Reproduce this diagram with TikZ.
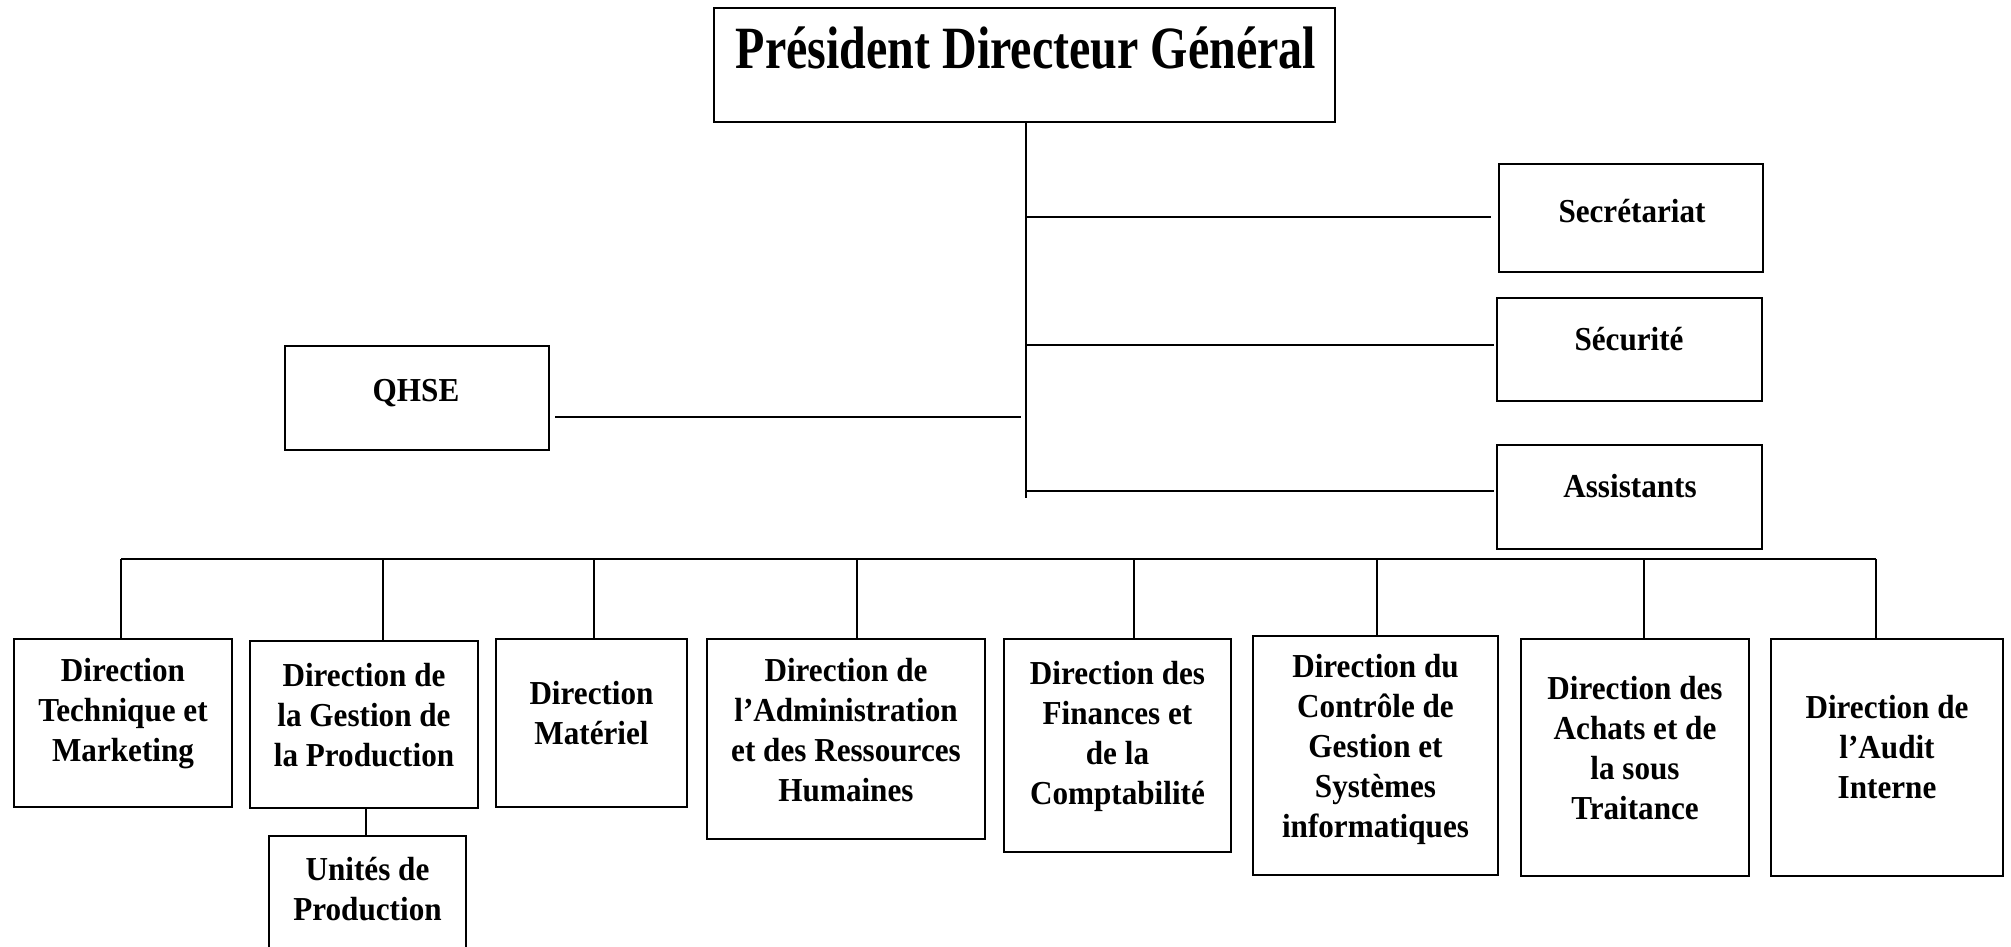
\documentclass[tikz,border=0pt]{standalone}
\usepackage{fontspec}
\setmainfont{Liberation Serif}[FakeStretch=0.93]
\newfontfamily\pdgfont{Liberation Serif}[FakeStretch=0.8]
\begin{document}
\begin{tikzpicture}[x=1pt,y=-1pt,
  box/.style={draw, line width=2.5pt, inner sep=0pt},
  lbl/.style={font=\bfseries\fontsize{33.5}{40}\selectfont, align=center, inner sep=0pt},
  big/.style={font=\pdgfont\bfseries\fontsize{60}{66}\selectfont, inner sep=0pt},
  ln/.style={line width=2pt}]
\useasboundingbox (0,0) rectangle (2011,946);
% boxes
\node[box, minimum width=621pt, minimum height=114pt] (pdg) at (1024.5,65) {};
\node[box, minimum width=264pt, minimum height=108pt] (sec) at (1631,218) {};
\node[box, minimum width=265pt, minimum height=103pt] (secu) at (1629.5,349.5) {};
\node[box, minimum width=265pt, minimum height=104pt] (asst) at (1629.5,497) {};
\node[box, minimum width=264pt, minimum height=104pt] (qhse) at (417,398) {};
\node[box, minimum width=218pt, minimum height=168pt] (d1) at (123,723) {};
\node[box, minimum width=228pt, minimum height=167pt] (d2) at (364,724.5) {};
\node[box, minimum width=191pt, minimum height=168pt] (d3) at (591.5,723) {};
\node[box, minimum width=278pt, minimum height=200pt] (d4) at (846,739) {};
\node[box, minimum width=227pt, minimum height=213pt] (d5) at (1117.5,745.5) {};
\node[box, minimum width=245pt, minimum height=239pt] (d6) at (1375.5,755.5) {};
\node[box, minimum width=228pt, minimum height=237pt] (d7) at (1635,757.5) {};
\node[box, minimum width=232pt, minimum height=237pt] (d8) at (1887,757.5) {};
\node[box, minimum width=197pt, minimum height=134pt] (up) at (367.5,903) {};
% texts
\node[big] (tpdg) at (1026,48) {Président Directeur Général};
\node[lbl] (tsec) at (1632,211) {Secrétariat};
\node[lbl] (tsecu) at (1629,339) {Sécurité};
\node[lbl] (tasst) at (1630,486) {Assistants};
\node[lbl] (tqhse) at (416,393) {QHSE};
\node[lbl] (t1) at (123,714) {Direction\\Technique et\\Marketing};
\node[lbl] (t2) at (364,715) {Direction de\\la Gestion de\\la Production};
\node[lbl] (t3) at (591.5,713) {Direction\\Matériel};
\node[lbl] (t4) at (846,730) {Direction de\\l’Administration\\et des Ressources\\Humaines};
\node[lbl] (t5) at (1117.5,736) {Direction des\\Finances et\\de la\\Comptabilité};
\node[lbl] (t6) at (1375.5,749) {Direction du\\Contrôle de\\Gestion et\\Systèmes\\informatiques};
\node[lbl] (t7) at (1635,748) {Direction des\\Achats et de\\la sous\\Traitance};
\node[lbl] (t8) at (1887,747) {Direction de\\l’Audit\\Interne};
\node[lbl] (tup) at (367.5,889) {Unités de\\Production};
% trunk and side branches
\coordinate (trk) at (1026,0);
\draw[ln] (trk |- pdg.south) -- (trk |- 0,498);
\draw[ln, shorten >=7pt] (trk |- 0,217) -- (sec.west |- 0,217);
\draw[ln, shorten >=2pt] (trk |- 0,345) -- (secu.west |- 0,345);
\draw[ln, shorten >=2pt] (trk |- 0,491) -- (asst.west |- 0,491);
\draw[ln, shorten <=5pt, shorten >=5pt] (qhse.east |- 0,417) -- (trk |- 0,417);
% bus
\coordinate (b1) at (121,559);
\coordinate (b2) at (383,559);
\coordinate (b3) at (594,559);
\coordinate (b4) at (857,559);
\coordinate (b5) at (1134,559);
\coordinate (b6) at (1377,559);
\coordinate (b7) at (1644,559);
\coordinate (b8) at (1876,559);
\draw[ln] (b1) -- (b8);
\draw[ln] (b1) -- (b1 |- d1.north);
\draw[ln] (b2) -- (b2 |- d2.north);
\draw[ln] (b3) -- (b3 |- d3.north);
\draw[ln] (b4) -- (b4 |- d4.north);
\draw[ln] (b5) -- (b5 |- d5.north);
\draw[ln] (b6) -- (b6 |- d6.north);
\draw[ln] (b7) -- (b7 |- d7.north);
\draw[ln] (b8) -- (b8 |- d8.north);
\coordinate (u1) at (366,0);
\draw[ln] (u1 |- d2.south) -- (u1 |- up.north);
\end{tikzpicture}
\end{document}
